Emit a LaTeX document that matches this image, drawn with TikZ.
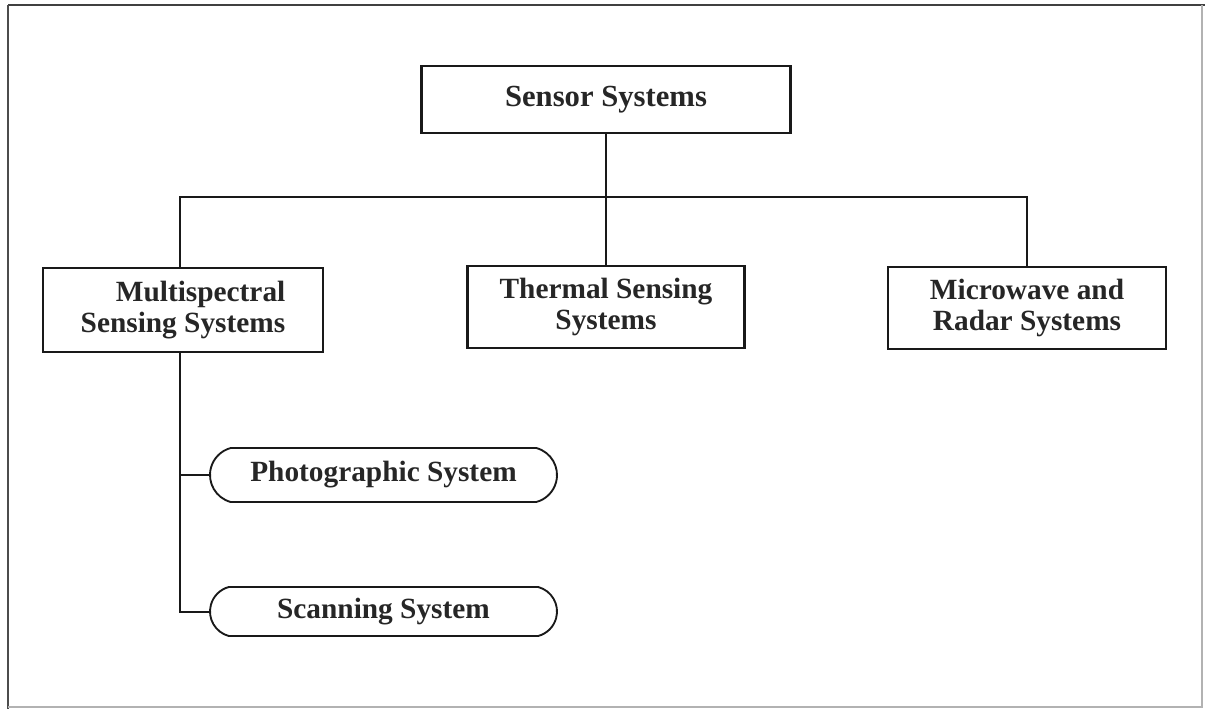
\documentclass[tikz,border=0pt]{standalone}
\usepackage{fontspec}
\setmainfont{Liberation Serif}
\usetikzlibrary{shapes.misc}
\begin{document}
\begin{tikzpicture}[x=0.75pt,y=-0.75pt,
  box/.style={draw=black!90, line width=1.6pt, inner sep=0pt, align=center,
    font=\bfseries\fontsize{22}{23.5}\selectfont, text=black!85},
  pill/.style={draw=black!90, line width=1.4pt, rounded rectangle, rounded rectangle arc length=150,
    inner sep=0pt, font=\bfseries\fontsize{22}{23.5}\selectfont, text=black!85},
  link/.style={draw=black!90, line width=1.5pt}]
\useasboundingbox (0,0) rectangle (1205,709);
% frame
\draw[black!75, line width=2.2pt] (8,5) -- (1205,5);
\draw[black!70, line width=1.6pt] (8,5) -- (8,709);
\draw[black!30, line width=1.2pt] (8,707) -- (1202,707) -- (1202,5);
% nodes
\node[box, minimum width=369*0.75pt, minimum height=67*0.75pt, font=\bfseries\fontsize{23}{24}\selectfont] (sensor) at (606,99.5) {Sensor Systems};
\node[box, minimum width=280*0.75pt, minimum height=84*0.75pt] (multi) at (183,310) {\hspace*{1.2em}Multispectral\\Sensing Systems};
\node[box, minimum width=277*0.75pt, minimum height=82*0.75pt] (thermal) at (606,307) {Thermal Sensing\\Systems};
\node[box, minimum width=278*0.75pt, minimum height=82*0.75pt] (micro) at (1027,308) {Microwave and\\Radar Systems};
\node[pill, minimum width=347*0.75pt, minimum height=54*0.75pt] (photo) at (383.5,475) {Photographic System};
\node[pill, minimum width=347*0.75pt, minimum height=49*0.75pt] (scan) at (383.5,611.5) {Scanning System};
% connectors
\coordinate (busL) at (180,197);
\coordinate (busR) at (1027,197);
\coordinate (trunk) at (180,611.5);
\draw[link] (sensor.south) -- (sensor.south |- busL);
\draw[link] (busL |- multi.north) -- (busL) -- (busR) -- (micro.north);
\draw[link] (thermal.north) -- (thermal.north |- busL);
\draw[link] (busL |- multi.south) -- (trunk) -- (scan.west);
\draw[link] (trunk |- photo.west) -- (photo.west);
\end{tikzpicture}
\end{document}
